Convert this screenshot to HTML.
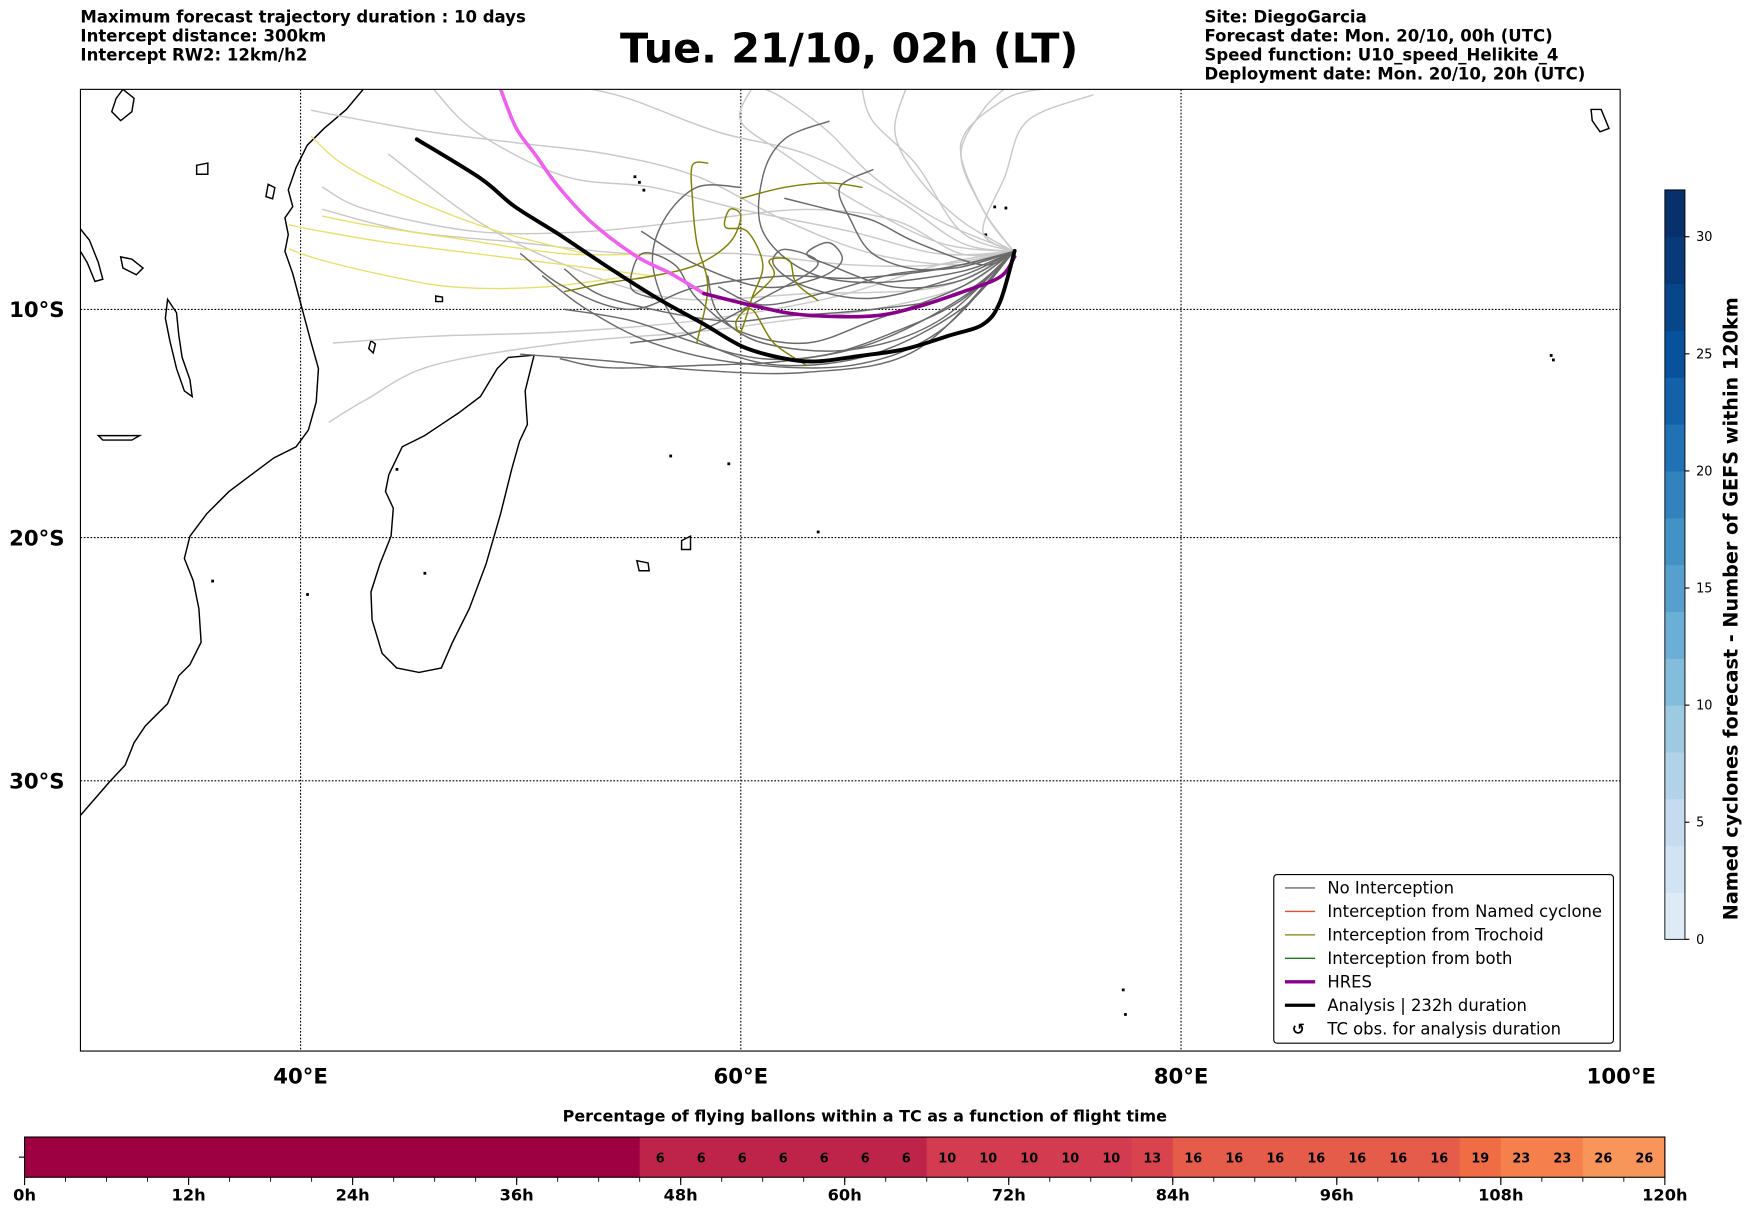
<!DOCTYPE html>
<html><head><meta charset="utf-8"><style>
html,body{margin:0;padding:0;background:#fff;}
svg{display:block;font-family:"Liberation Sans","DejaVu Sans",sans-serif;}
</style></head><body>
<svg id="fig" width="1752" height="1213" viewBox="0 0 1568 1086" preserveAspectRatio="none" xmlns="http://www.w3.org/2000/svg">
<rect width="1568" height="1086" fill="#fff"/>
<g font-size="14.8" font-weight="bold" font-family="DejaVu Sans, sans-serif">
<text x="72" y="20">Maximum forecast trajectory duration : 10 days</text>
<text x="72" y="37">Intercept distance: 300km</text>
<text x="72" y="54">Intercept RW2: 12km/h2</text>
</g>
<text x="760" y="56" text-anchor="middle" font-size="37" font-weight="bold" font-family="DejaVu Sans, sans-serif">Tue. 21/10, 02h (LT)</text>
<g font-size="14.8" font-weight="bold" font-family="DejaVu Sans, sans-serif">
<text x="1078" y="20">Site: DiegoGarcia</text>
<text x="1078" y="37">Forecast date: Mon. 20/10, 00h (UTC)</text>
<text x="1078" y="54">Speed function: U10_speed_Helikite_4</text>
<text x="1078" y="71">Deployment date: Mon. 20/10, 20h (UTC)</text>
</g>
<defs><clipPath id="mapclip"><rect x="72" y="80" width="1378" height="861"/></clipPath></defs>
<g id="map" clip-path="url(#mapclip)"></g>
<rect x="72" y="80" width="1378" height="861" fill="none" stroke="#000" stroke-width="1"/>
<g id="axes"></g>
<g id="legend"></g>
<g id="cbar"></g>
<g id="bbar"></g>
</svg>
<script>
// ---- data ----
const lonTicks=[40,60,80,100];
const latTicks=[-10,-20,-30];
const analysisLon=[72.44,71.78,71.02,69.49,67.46,65.43,63.40,61.88,60.10,58.32,56.29,54.01,51.73,49.70,48.17,45.28];
const analysisLat=[-7.37,-9.65,-10.66,-11.16,-11.77,-12.07,-12.32,-12.17,-11.67,-10.66,-9.55,-8.13,-6.62,-5.35,-4.09,-2.32];
const hresLon=[72.44,71.78,70.0,67.97,65.94,62.89,60.86,58.32,56.80,55.28,53.25,51.73,50.71,49.80,49.09];
const hresLat=[-7.63,-8.54,-9.24,-9.90,-10.30,-10.25,-9.90,-9.29,-8.38,-7.63,-6.11,-4.49,-3.08,-1.82,-0.05];
const darkTracks=[
[[72.4,-7.4],[70,-9.5],[66,-11.5],[62,-12.3],[58,-12.5],[54,-12.6],[51.8,-12.2]],
[[72.4,-7.4],[70,-8.5],[66,-9.5],[63,-9],[61.5,-8],[62,-7.3],[63.5,-8],[61,-9.5],[58,-11],[55,-11.5]],
[[72.4,-7.4],[69,-8.2],[65,-8.6],[62,-8.5],[58,-9],[55,-10],[52,-9],[50,-7.5]],
[[72.4,-7.4],[70,-10],[66,-12],[62,-12.5],[59,-11.8],[57,-10.5],[56,-8],[56.5,-6],[58,-4.5],[60,-4.5]],
[[72.4,-7.4],[70,-8.3],[66,-8.8],[63,-8.3],[61,-6.5],[61,-4],[62,-2.3],[64,-1.5]],
[[72.4,-7.4],[70,-9],[66,-10.5],[63,-11.5],[60,-11],[58,-9.5],[57,-8],[55.5,-7.5],[55,-9],[56,-9.5]],
[[72.4,-7.4],[69,-11],[65,-12.5],[60,-12.4],[56,-11.5],[53,-10],[51,-8.5]],
[[72.4,-7.4],[70,-8],[68,-8.2],[66,-7.5],[65,-6],[64.5,-4.5],[66,-3.7]],
[[72.4,-7.4],[70,-9.6],[67,-11],[64,-12],[61,-12.2],[58,-11.5],[55,-10.5],[52,-10]],
[[72.4,-7.4],[70,-8.7],[67,-9],[64,-8],[63,-7.5],[64,-7],[64.6,-7.8],[63.5,-8.6],[61,-9],[58,-8],[55.5,-6.5]],
[[72.4,-7.4],[71,-8],[68,-7],[66,-6],[64,-5.5],[62,-5]],
[[72.4,-7.4],[69,-10.5],[65,-11.8],[61,-11.5],[59,-10.2],[58.5,-8.5]],
[[72.4,-7.4],[70,-9.3],[66,-10],[62,-10.3],[59,-10.5],[54,-9.5],[52,-8.2]],
[[72.4,-7.4],[68,-11.8],[63,-12.8],[58,-12.7],[54,-12.3],[50,-12]],
[[72.4,-7.4],[70,-8.1],[67,-8.4],[64,-9.2],[61,-9.8],[59,-9]]
];
const lightTracks=[
[[72.4,-7.4],[70,-8],[66,-7.5],[62,-6],[58,-4],[54,-3],[50,-2.5],[46,-2],[42,-1.3],[40.5,-1]],
[[72.4,-7.4],[69,-6],[66,-4],[64,-2],[62,-0.5],[61,0]],
[[72.4,-7.4],[70,-6],[68,-4],[67,-2],[67.5,0]],
[[72.4,-7.4],[70,-7],[67,-5],[63,-3],[59,-2],[55,-0.5],[53,0]],
[[72.4,-7.4],[71,-5.5],[70,-3],[71,-1],[72,0]],
[[72.4,-7.4],[71,-6.5],[72,-4],[73,-1.5],[76,-0.3]],
[[72.4,-7.4],[69,-8],[64,-9.5],[58,-10.5],[52,-11],[46,-11.2],[41.5,-11.5]],
[[72.4,-7.4],[69,-8],[65,-8],[60,-7.5],[55,-7.5],[50,-7],[45,-6.5],[41,-5.5]],
[[72.4,-7.4],[69,-7.5],[65,-6.5],[60,-5.5],[56,-4.5],[52,-4],[48,-2],[46,0]],
[[72.4,-7.4],[70,-9],[66,-10],[62,-10.5],[58,-11],[52,-11.5],[46,-12.5],[43,-14],[41.3,-15]],
[[72.4,-7.4],[69,-7],[65,-5],[62,-3],[60,-1.5],[60.5,0]],
[[72.4,-7.4],[70,-7.5],[67,-6],[63,-5.5],[58,-6],[53,-6.5],[48,-6.5],[43,-5.5],[41,-4.5]],
[[72.4,-7.4],[70,-6.5],[68,-3.5],[66,-1.5],[65.5,0]],
[[72.4,-7.4],[71,-5.5],[70,-2.5],[72,-0.5],[74,0]],
[[72.4,-7.4],[69,-9],[63,-9.3],[57,-9.5],[52,-8],[48,-6],[44,-3]]
];
const yellowTracks=[
[[56,-8.5],[52,-8],[48,-7.5],[44,-7],[41,-6.5],[39.5,-6.2]],
[[55,-8.5],[51,-9],[47,-9],[44,-8.5],[41,-7.8],[39.5,-7.3]],
[[53,-7.5],[49,-6.5],[45,-5],[42,-3.5],[40.5,-2.2]],
[[56,-7.5],[52,-7.5],[47,-6.8],[43,-6.2],[41,-5.8]]
];
const oliveTracks=[
[[58,-11.5],[58.5,-9],[58,-7],[57.8,-5],[57.8,-3.5],[58.5,-3.4]],
[[52,-9.2],[54,-8.8],[56,-8.5],[58,-8],[59.5,-7],[60,-5.8],[59.5,-5.5],[59.3,-6.3],[60.3,-6.5],[61,-8],[60.5,-9.5],[60,-11],[59.8,-10.5],[60.5,-10],[61.5,-11.5],[63,-12.5]],
[[60,-5],[62,-4.5],[64,-4.3],[65.5,-4.5]],
[[60.5,-9.5],[61.5,-8.5],[61.3,-7.8],[62.2,-7.8],[62.5,-8.8],[63.5,-9.6]]
];
const cbarTicks=[0,5,10,15,20,25,30];
const cbarMax=32;
const hourTicks=[0,12,24,36,48,60,72,84,96,108,120];
const cellValues=[0,0,0,0,0,0,0,0,0,0,0,0,0,0,0,6,6,6,6,6,6,6,10,10,10,10,10,13,16,16,16,16,16,16,16,19,23,23,26,26];

// ---- projection ----
const NS='http://www.w3.org/2000/svg';
const X0=72,PXDEG=19.7,Y0=79,K=PXDEG*180/Math.PI;
function px(lon){return X0+(lon-30)*PXDEG;}
function py(lat){const r=lat*Math.PI/180;return Y0-K*Math.log(Math.tan(Math.PI/4+r/2));}
function mk(tag,attrs,parent){const e=document.createElementNS(NS,tag);for(const k in attrs)e.setAttribute(k,attrs[k]);parent.appendChild(e);return e;}
function smooth(pts){
  let d='M'+pts[0][0].toFixed(1)+','+pts[0][1].toFixed(1);
  for(let i=0;i<pts.length-1;i++){
    const p0=pts[i-1]||pts[i],p1=pts[i],p2=pts[i+1],p3=pts[i+2]||p2;
    const c1=[p1[0]+(p2[0]-p0[0])/6,p1[1]+(p2[1]-p0[1])/6],c2=[p2[0]-(p3[0]-p1[0])/6,p2[1]-(p3[1]-p1[1])/6];
    d+=' C'+c1[0].toFixed(1)+','+c1[1].toFixed(1)+' '+c2[0].toFixed(1)+','+c2[1].toFixed(1)+' '+p2[0].toFixed(1)+','+p2[1].toFixed(1);
  }
  return d;
}
const map=document.getElementById('map');

const coast=[
"M325,80 L310,98 L290,115 L275,130 L265,150 L258,170 L262,185 L255,195 L258,210 L255,225 L262,245 L270,275 L278,305 L285,330 L283,360 L276,385 L265,400 L245,410 L225,425 L205,440 L185,460 L170,480 L165,500 L173,520 L178,545 L180,575 L170,595 L160,605 L150,630 L130,650 L120,665 L112,685 L98,700 L85,715 L72,730",
"M478,318 L470,350 L472,380 L465,395 L458,420 L448,460 L435,505 L420,545 L405,575 L395,598 L375,602 L355,598 L342,585 L333,555 L332,530 L340,505 L350,480 L352,455 L345,440 L348,425 L360,400 L380,390 L395,380 L410,370 L430,355 L445,330 L455,320 Z",
"M150,268 L158,280 L160,300 L163,320 L170,340 L172,355 L165,350 L158,330 L152,305 L148,285 Z",
"M72,205 L80,215 L88,235 L92,250 L85,252 L78,235 L72,225",
"M108,230 L118,232 L128,240 L122,246 L110,240 Z",
"M110,80 L120,88 L118,100 L108,108 L100,100 L104,88 Z",
"M88,390 L125,390 L118,394 L92,394 Z",
"M570,502 L580,504 L581,511 L572,511 Z","M610,484 L618,480 L618,492 L610,492 Z",
"M1424,98 L1433,98 L1440,115 L1432,118 L1425,108 Z",
"M176,148 L186,146 L186,156 L176,156 Z","M240,165 L246,168 L244,178 L238,176 Z",
"M332,305 L336,308 L334,316 L330,312 Z","M390,265 L396,266 L396,270 L390,270 Z"
];
coast.forEach((d,i)=>{const e=mk('path',{d:d,fill:'none',stroke:'#000','stroke-width':1.3},map);

});
[[568,158],[572,163],[576,170],[882,210],[890,185],[900,186],[1005,886],[1007,908],[1388,318],[1390,322],[652,415],[732,476],[600,408],[355,420],[190,520],[275,532],[380,513]].forEach((p,i)=>{
const e=mk('rect',{x:p[0]-1,y:p[1]-1,width:2.5,height:2.5,fill:'#000'},map);

});

lonTicks.slice(0,3).forEach(l=>{const e=mk('line',{x1:px(l),x2:px(l),y1:80,y2:941,stroke:'#000','stroke-width':1,'stroke-dasharray':'1.5,1.5'},map);

});
latTicks.forEach(l=>{const e=mk('line',{x1:72,x2:1450,y1:py(l),y2:py(l),stroke:'#000','stroke-width':1,'stroke-dasharray':'1.5,1.5'},map);

});

function drawTrack(tr,color,w,name){
  const pts=tr.map(p=>[px(p[0]),py(p[1])]);
  const e=mk('path',{d:smooth(pts),fill:'none',stroke:color,'stroke-width':w,'stroke-linejoin':'round','stroke-linecap':'round'},map);
  
  
}
lightTracks.forEach((t,i)=>drawTrack(t,'#c9c9c9',1.3,'light-track-'+i));
yellowTracks.forEach((t,i)=>drawTrack(t,'#e8e066',1.2,'yellow-track-'+i));
darkTracks.forEach((t,i)=>drawTrack(t,'#6a6a6a',1.3,'no-interception-track-'+i));
oliveTracks.forEach((t,i)=>drawTrack(t,'#808000',1.3,'trochoid-track-'+i));
const hres=hresLon.map((l,i)=>[l,hresLat[i]]);
drawTrack(hres.slice(7),'#f060f0',3.2,'hres-track-late');
drawTrack(hres.slice(0,8),'#8b008b',3.2,'hres-track');
drawTrack(analysisLon.map((l,i)=>[l,analysisLat[i]]),'#000',3.5,'analysis-track');

const axes=document.getElementById('axes');
lonTicks.forEach(l=>{const t=mk('text',{x:px(l),y:970,'text-anchor':'middle','font-size':19,'font-weight':'bold','font-family':'DejaVu Sans, sans-serif'},axes);t.textContent=l+'°E';

});
latTicks.forEach(l=>{const t=mk('text',{x:33,y:py(l)+7,'text-anchor':'middle','font-size':19,'font-weight':'bold','font-family':'DejaVu Sans, sans-serif'},axes);t.textContent=(-l)+'°S';

});

const lg=document.getElementById('legend');
mk('rect',{x:1140,y:783,width:304,height:151,rx:3,fill:'#fff',stroke:'#000','stroke-width':1},lg);
const legItems=[['No Interception','#6a6a6a',1.2],['Interception from Named cyclone','#e0502a',1.2],['Interception from Trochoid','#808000',1.2],['Interception from both','#1a7a1a',1.2],['HRES','#8b008b',3],['Analysis | 232h duration','#000',3],['TC obs. for analysis duration',null,0]];
legItems.forEach((it,i)=>{const y=795+i*21;
 const g=mk('g',{},lg);
 
 
 if(it[1])mk('line',{x1:1150,x2:1177,y1:y,y2:y,stroke:it[1],'stroke-width':it[2]},g);
 else{const s=mk('text',{x:1162,y:y+5,'text-anchor':'middle','font-size':14,'font-weight':'bold'},g);s.textContent='↺';}
 const t=mk('text',{x:1188,y:y+5,'font-size':14.7,'font-family':'DejaVu Sans, sans-serif'},g);t.textContent=it[0];});

const cb=document.getElementById('cbar');
const blues=['#deebf7','#d2e3f3','#c6dbef','#b2d2e8','#9ecae1','#84bcdb','#6baed6','#57a0ce','#4292c6','#3282be','#2171b5','#1361a9','#08519c','#08468a','#083a7a','#08306b'];
const CB0=841,CBPX=(841-170)/cbarMax;
blues.forEach((c,i)=>{const e=mk('rect',{x:1490,y:CB0-(i+1)*2*CBPX,width:18,height:2*CBPX+0.5,fill:c},cb);

});
mk('rect',{x:1490,y:170,width:18,height:671,fill:'none',stroke:'#000','stroke-width':0.8},cb);
cbarTicks.forEach(v=>{const y=CB0-v*CBPX;mk('line',{x1:1508,x2:1512,y1:y,y2:y,stroke:'#000'},cb);
const t=mk('text',{x:1518,y:y+4,'font-size':11.5,'font-family':'DejaVu Sans, sans-serif'},cb);t.textContent=v;

});
const cbl=mk('text',{x:1555,y:545,'text-anchor':'middle','font-size':17.2,'font-weight':'bold','font-family':'DejaVu Sans, sans-serif',transform:'rotate(-90 1555 545)'},cb);
cbl.textContent='Named cyclones forecast - Number of GEFS within 120km';



const bb=document.getElementById('bbar');
const BX0=22,BX1=1490,BY=1018,BH=36,HPX=(BX1-BX0)/120;
const bt=mk('text',{x:774,y:1004,'text-anchor':'middle','font-size':14.3,'font-weight':'bold','font-family':'DejaVu Sans, sans-serif'},bb);
bt.textContent='Percentage of flying ballons within a TC as a function of flight time';


function spec(v){const stops=[[0,[158,1,66]],[6,[190,36,74]],[10,[211,60,80]],[13,[216,67,78]],[16,[229,92,74]],[19,[240,108,69]],[23,[246,128,76]],[26,[248,150,90]]];
 for(let i=stops.length-1;i>=0;i--)if(v>=stops[i][0]){const c=stops[i][1];return 'rgb('+c.join(',')+')';}return 'rgb(158,1,66)';}
cellValues.forEach((v,i)=>{const x=BX0+i*3*HPX;
 const r=mk('rect',{x:x,y:BY,width:3*HPX+0.6,height:BH,fill:spec(v)},bb);
 
 
 if(v>0){const t=mk('text',{x:x+1.5*HPX,y:BY+23,'text-anchor':'middle','font-size':11.5,'font-weight':'bold','font-family':'DejaVu Sans, sans-serif'},bb);t.textContent=v;
 
 }
 mk('line',{x1:x,x2:x,y1:BY+BH,y2:BY+BH+4,stroke:'#000','stroke-width':0.8},bb);});
mk('rect',{x:BX0,y:BY,width:BX1-BX0,height:BH,fill:'none',stroke:'#000','stroke-width':1},bb);
mk('line',{x1:17,x2:22,y1:BY+BH/2,y2:BY+BH/2,stroke:'#000'},bb);
hourTicks.forEach(h=>{const x=BX0+h*HPX;mk('line',{x1:x,x2:x,y1:BY+BH,y2:BY+BH+7,stroke:'#000','stroke-width':1},bb);
 const t=mk('text',{x:x,y:1075,'text-anchor':'middle','font-size':14.5,'font-weight':'bold','font-family':'DejaVu Sans, sans-serif'},bb);t.textContent=h+'h';
 
 });
</script>
</body></html>
